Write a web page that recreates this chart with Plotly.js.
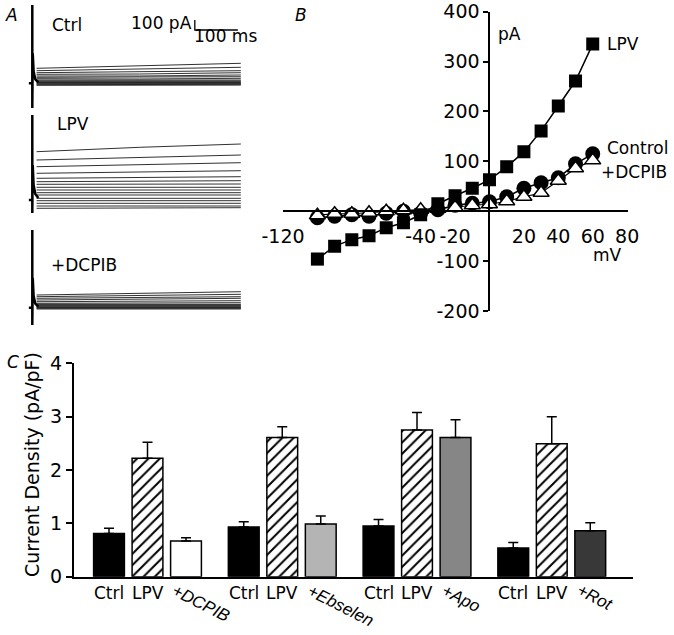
<!DOCTYPE html>
<html><head><meta charset="utf-8">
<script src="https://cdn.plot.ly/plotly-3.0.1.min.js"></script>
<style>html,body{margin:0;padding:0;background:#fff}</style>
</head><body><div id="chart" style="width:674px;height:635px"></div>
<script>
// ---------- Panel A: current traces (pA relative to holding level) ----------
const traceTimes = [10, 250, 485];           // ms: start, middle, end of the step
const ctrlTraces = [[150,173,200],[126,140,160],[106,116,126],[90,93,106],[73,73,83],[60,60,66],[46,43,50],[33,30,33],[24,22,24],[16,16,16],[8,8,8],[0,0,0],[-6,-6,-6],[-14,-14,-10],[-20,-20,-18]];
const lpvTraces  = [[483,527,560],[400,427,450],[333,357,373],[267,277,293],[217,227,233],[183,190,193],[157,158,160],[127,127,127],[100,100,100],[73,73,73],[50,50,50],[17,17,17],[-7,-7,-7],[-33,-33,-33],[-60,-60,-60],[-83,-80,-77]];
const dcpibTraces= [[127,143,160],[110,122,134],[94,102,110],[77,85,94],[60,65,70],[44,47,50],[34,34,34],[27,27,27],[20,20,20],[10,10,10],[5,5,5],[0,0,0],[-6,-6,-6],[-13,-13,-13]];
const spikeTimes = [-8, 0, 0, 0, 1, 3, 7, 14];
const ctrlSpike  = [0, 0, 783, -247, 300, 120, 40, 10];
const lpvSpike   = [0, 0, 850, -130, 350, 150, 60, 20];
const dcpibSpike = [0, 0, 777, -173, 300, 120, 40, 10];
const scaleBarT  = [378, 478];   // 100 ms
const scaleBarI  = [533, 633];   // 100 pA

// ---------- Panel B: I-V relationship ----------
const voltages = [-100,-90,-80,-70,-60,-50,-40,-30,-20,-10,0,10,20,30,40,50,60];
const lpvIV    = [-96,-70,-57,-49,-33,-23,-7,15,31,46,63,89,119,161,211,261,335];
const ctrlIV   = [-13,-10,-7,-10,-4,0,-4,3,12,16,19,29,46,57,67,95,115];
const dcpibIV  = [-8,-5,-5,-3,0,2,3,5,8,12,14,20,29,37,61,86,102];
const ivXTicks = [-120,-40,-20,20,40,60,80];
const ivXText  = ['-120','-40','-20','20','40','60','80'];
const ivYTicks = [-200,-100,0,100,200,300,400];
const ivYText  = ['-200','-100','','100','200','300','400'];

// ---------- Panel C: current density ----------
const treatNames   = ['+DCPIB','+Ebselen','+Apo','+Rot'];
const ctrlDensity  = [0.81,0.93,0.95,0.54];
const ctrlErr      = [0.10,0.10,0.12,0.10];
const lpvDensity   = [2.22,2.61,2.75,2.49];
const lpvErr       = [0.30,0.20,0.33,0.51];
const treatDensity = [0.67,0.99,2.61,0.86];
const treatErr     = [0.06,0.15,0.33,0.15];

// ---------- styling / layout ----------
const W = 674, H = 635;
const fx = p => p / W;
const fy = p => 1 - p / H;
const FONT = 'DejaVu Sans, Verdana, sans-serif';
const FONT2 = 'Liberation Sans, Arial, sans-serif';
const FS = 17, TFS = 19;
const treatColors = ['#ffffff','#b4b4b4','#868686','#383838'];

const data = [];
function addTraces(list, yax) {
  list.forEach(v => data.push({x: traceTimes, y: v, xaxis:'x', yaxis:yax, mode:'lines',
    line:{color:'#1a1a1a', width:0.9}, hoverinfo:'skip'}));
}
addTraces(ctrlTraces, 'y');
addTraces(lpvTraces, 'y2');
addTraces(dcpibTraces, 'y3');
[[ctrlSpike,'y'],[lpvSpike,'y2'],[dcpibSpike,'y3']].forEach(([s,ya]) =>
  data.push({x: spikeTimes, y: s, xaxis:'x', yaxis:ya, mode:'lines', line:{color:'#000', width:2.5}}));
// scale bar
data.push({x:[scaleBarT[0], scaleBarT[0], scaleBarT[1]], y:[scaleBarI[1], scaleBarI[0], scaleBarI[0]],
  xaxis:'x', yaxis:'y', mode:'lines', line:{color:'#000', width:1.3}});

// Panel B
data.push({x: voltages, y: ctrlIV, xaxis:'x2', yaxis:'y4', mode:'lines+markers',
  line:{color:'#000', width:1.5}, marker:{symbol:'circle', size:15, color:'#000'}});
data.push({x: voltages, y: dcpibIV, xaxis:'x2', yaxis:'y4', mode:'lines+markers',
  line:{color:'#000', width:1.2}, marker:{symbol:'triangle-up', size:14, color:'#fff', line:{color:'#000', width:1.5}}});
data.push({x: voltages, y: lpvIV, xaxis:'x2', yaxis:'y4', mode:'lines+markers',
  line:{color:'#000', width:1.5}, marker:{symbol:'square', size:13, color:'#000'}});

// Panel C
const gpos = g => g * 3.5;
const zeros = ctrlDensity.map(() => 0);
const errStyle = arr => ({type:'data', array:arr, arrayminus:zeros, symmetric:false, color:'#000', thickness:1.5, width:5});
data.push({type:'bar', x: ctrlDensity.map((_,g)=>gpos(g)), y: ctrlDensity, xaxis:'x3', yaxis:'y5', width:0.8,
  marker:{color:'#000', line:{color:'#000', width:1.5}}, error_y: errStyle(ctrlErr)});
data.push({type:'bar', x: lpvDensity.map((_,g)=>gpos(g)+1), y: lpvDensity, xaxis:'x3', yaxis:'y5', width:0.8,
  marker:{color:'#fff', line:{color:'#000', width:1.5}, pattern:{shape:'/', fgcolor:'#000', bgcolor:'#fff', size:8, solidity:0.25}},
  error_y: errStyle(lpvErr)});
data.push({type:'bar', x: treatDensity.map((_,g)=>gpos(g)+2), y: treatDensity, xaxis:'x3', yaxis:'y5', width:0.8,
  marker:{color:treatColors, line:{color:'#000', width:1.5}}, error_y: errStyle(treatErr)});

const ann = [];
const baseFont = () => ({family:FONT, size:FS, color:'#000'});
const txt = (text, x, y, opts={}) => ann.push(Object.assign({text, x:fx(x), y:fy(y), xref:'paper', yref:'paper',
  showarrow:false, font:baseFont(), xanchor:'center', yanchor:'middle'}, opts));
// panel letters
txt('<i>A</i>', 11, 15); txt('<i>B</i>', 301, 15); txt('<i>C</i>', 13, 362);
// panel A
txt('Ctrl', 67, 25); txt('LPV', 73, 124); txt('+DCPIB', 84, 265);
txt('100 pA', 194, 23, {xanchor:'right'}); txt('100 ms', 192, 36, {xanchor:'left'});
// panel B
txt('pA', 509, 34); txt('LPV', 605, 44, {xanchor:'left'}); txt('Control', 605, 148, {xanchor:'left'});
txt('+DCPIB', 599, 172, {xanchor:'left'}); txt('mV', 607, 255);
// panel C
txt('Current Density (pA/pF)', 32, 465, {textangle:-90, font:{family:FONT, size:TFS, color:'#000'}});
ctrlDensity.forEach((_, g) => {
  ann.push({text:'Ctrl', x:gpos(g), xref:'x3', y:fy(593), yref:'paper', showarrow:false, xanchor:'center', yanchor:'middle', font:baseFont()});
  ann.push({text:'LPV', x:gpos(g)+1, xref:'x3', y:fy(593), yref:'paper', showarrow:false, xanchor:'center', yanchor:'middle', font:baseFont()});
  ann.push({text:'<i>'+treatNames[g]+'</i>', x:gpos(g)+2-0.5, xref:'x3', y:fy(578), yref:'paper', showarrow:false,
    textangle:27, xanchor:'left', yanchor:'top', font:{family:FONT2, size:17, color:'#000'}});
});

const hidden = {visible:false, fixedrange:true};
const tickFont = {family:FONT, size:TFS, color:'#000'};
const layout = {
  width: W, height: H, margin:{l:0,r:0,t:0,b:0}, showlegend:false,
  paper_bgcolor:'#fff', plot_bgcolor:'rgba(0,0,0,0)',
  font:{family:FONT, size:FS, color:'#000'},
  xaxis: Object.assign({domain:[fx(28), fx(245)], range:[-10, 494.7], anchor:'y'}, hidden),
  yaxis: Object.assign({domain:[fy(110), fy(0)], range:[-267, 833], anchor:'x'}, hidden),
  yaxis2: Object.assign({domain:[fy(218), fy(110)], range:[-180, 900], anchor:'x'}, hidden),
  yaxis3: Object.assign({domain:[fy(328), fy(222)], range:[-203, 857], anchor:'x'}, hidden),
  xaxis2: {domain:[fx(283), fx(628)], range:[-120, 80.5], anchor:'free', position:fy(211.3),
    showline:true, linecolor:'#000', linewidth:2, showgrid:false, zeroline:false,
    tickvals:ivXTicks, ticktext:ivXText, ticks:'', ticklabelstandoff:8, tickfont:tickFont},
  yaxis4: {domain:[fy(311), fy(11.7)], range:[-200, 400], anchor:'free', position:fx(489.4),
    showline:true, linecolor:'#000', linewidth:2, showgrid:false, zeroline:false,
    tickvals:ivYTicks, ticktext:ivYText, ticks:'outside', ticklen:5, tickwidth:2, tickcolor:'#000',
    tickfont:tickFont},
  xaxis3: {domain:[fx(74), fx(633)], range:[-0.909, 13.61], anchor:'y5',
    showline:true, linecolor:'#000', linewidth:2, showgrid:false, zeroline:false, showticklabels:false, ticks:''},
  yaxis5: {domain:[fy(576.7), fy(363.3)], range:[0, 4], anchor:'x3',
    showline:true, linecolor:'#000', linewidth:2, showgrid:false, zeroline:false,
    tickvals:[0,1,2,3,4], ticks:'outside', ticklen:6, tickwidth:2, tickcolor:'#000',
    tickfont:tickFont},
  bargap:0, annotations: ann
};
Plotly.newPlot('chart', data, layout, {staticPlot:true, displayModeBar:false});
</script></body></html>
